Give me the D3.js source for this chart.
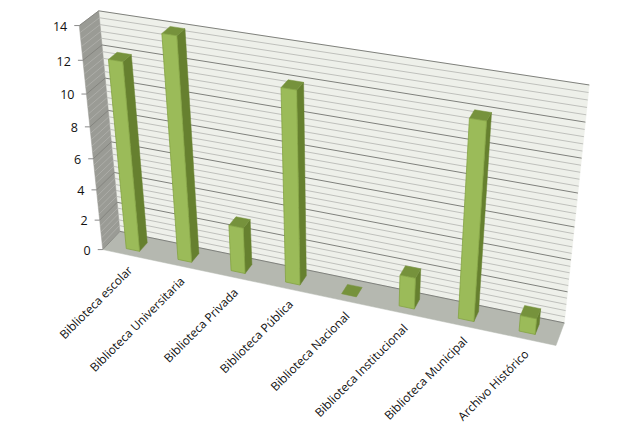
<!DOCTYPE html>
<html><head><meta charset="utf-8"><script src="https://cdn.jsdelivr.net/npm/d3@7"></script>
<style>html,body{margin:0;background:#fff}svg{display:block}text{font-family:"Open Sans",sans-serif;fill:#111}</style></head>
<body><svg width="636" height="435"></svg>
<script>
const categories=["Biblioteca escolar","Biblioteca Universitaria","Biblioteca Privada","Biblioteca Pública","Biblioteca Nacional","Biblioteca Institucional","Biblioteca Municipal","Archivo Histórico"];
const values=[12,14,3,12,0,2,12,1];
const majorTicks=[0,2,4,6,8,10,12,14];
const minorStep=0.4;

// Box corners on screen, [u,h,v] -> [x,y]
const anchors=[[[0,1,0],[98.7,10.7]],[[1,1,0],[589.3,85]],[[1,0,0],[564.3,322.7]],[[0,0,0],[120,231.7]],[[0,0,1],[102.7,249.3]],[[1,0,1],[556,345.7]],[[0,1,1],[79.3,25.7]]];
function solve(A,b){const n=b.length,M=A.map((r,i)=>[...r,b[i]]);
 for(let c=0;c<n;c++){let p=c;for(let r=c+1;r<n;r++)if(Math.abs(M[r][c])>Math.abs(M[p][c]))p=r;[M[c],M[p]]=[M[p],M[c]];
  for(let r=0;r<n;r++)if(r!==c){const f=M[r][c]/M[c][c];for(let k=c;k<=n;k++)M[r][k]-=f*M[c][k];}}
 return M.map((r,i)=>r[n]/r[i]);}
const rows=[],rhs=[];
anchors.forEach(([[u,h,v],[x,y]])=>{rows.push([u,h,v,1,0,0,0,0,-x*u,-x*h,-x*v]);rhs.push(x);rows.push([0,0,0,0,u,h,v,1,-y*u,-y*h,-y*v]);rhs.push(y);});
const AtA=d3.range(11).map(i=>d3.range(11).map(j=>d3.sum(rows,r=>r[i]*r[j])));
const Atb=d3.range(11).map(i=>d3.sum(rows,(r,k)=>r[i]*rhs[k]));
const P=solve(AtA,Atb);
function proj(u,h,v){const w=P[8]*u+P[9]*h+P[10]*v+1;return[(P[0]*u+P[1]*h+P[2]*v+P[3])/w,(P[4]*u+P[5]*h+P[6]*v+P[7])/w];}

const x=d3.scaleBand().domain(categories).range([0,1]).paddingInner(0.74).paddingOuter(0.37);
const y=d3.scaleLinear().domain([0,14]).range([0,1]);
const depth=d3.scaleLinear().domain([0,1]).range([0.27,0.73]);
const svg=d3.select("svg");
const line=d3.line();
const poly=(g,pts,fill,stroke,sw)=>g.append("path").attr("d",line(pts)+"Z").attr("fill",fill).attr("stroke",stroke||fill).attr("stroke-width",sw||0.5).attr("stroke-linejoin","round");

poly(svg,[proj(0,1,0),proj(1,1,0),proj(1,0,0),proj(0,0,0)],"#eef0ea");
poly(svg,[proj(0,1,0),proj(0,1,1),proj(0,0,1),proj(0,0,0)],"#9a9b95");
poly(svg,[proj(0,0,0),proj(1,0,0),proj(1,0,1),proj(0,0,1)],"#b5b8b0");

const minor=d3.range(0,14+1e-6,minorStep).filter(t=>Math.abs(t/2-Math.round(t/2))>1e-6);
const grid=svg.append("g").attr("fill","none");
minor.forEach(t=>{const h=y(t);
 grid.append("path").attr("d",line([proj(0,h,0),proj(1,h,0)])).attr("stroke","#bfc0bc").attr("stroke-width",1);
 grid.append("path").attr("d",line([proj(0,h,1),proj(0,h,0)])).attr("stroke","#b4b5b0").attr("stroke-width",0.7);});
majorTicks.forEach(t=>{const h=y(t);
 grid.append("path").attr("d",line([proj(0,h,0),proj(1,h,0)])).attr("stroke","#7f807c").attr("stroke-width",1);
 grid.append("path").attr("d",line([proj(0,h,1),proj(0,h,0)])).attr("stroke","#7d7e79").attr("stroke-width",0.8);
 const p=proj(0,h,1);
 grid.append("path").attr("d",line([p,[p[0]-5,p[1]]])).attr("stroke","#8a8a8a").attr("stroke-width",1);
 svg.append("text").attr("x",p[0]-12).attr("y",p[1]+2).attr("text-anchor","end").attr("dominant-baseline","middle").attr("font-size",12.5).text(t);
});

categories.forEach((c,i)=>{
 const u0=x(c),u1=u0+x.bandwidth(),h=y(values[i]),vf=depth(1),vb=depth(0);
 const g=svg.append("g");
 if(values[i]===0){poly(g,[proj(u0,0,vf),proj(u1,0,vf),proj(u1,0,vb),proj(u0,0,vb)],"#76923c");return;}
 poly(g,[proj(u1,0,vf),proj(u1,0,vb),proj(u1,h,vb),proj(u1,h,vf)],"#66802f");
 poly(g,[proj(u0,h,vf),proj(u1,h,vf),proj(u1,h,vb),proj(u0,h,vb)],"#76923c");
 poly(g,[proj(u0,0,vf),proj(u1,0,vf),proj(u1,h,vf),proj(u0,h,vf)],"#9bbb59","#84a343",0.8);
});

categories.forEach(c=>{
 const p=proj(x(c)+x.bandwidth()/2,0,1);
 svg.append("text").attr("transform",`translate(${p[0]+5},${p[1]+16}) rotate(-45)`).attr("text-anchor","end").attr("font-size",11.9).text(c);
});
</script></body></html>
